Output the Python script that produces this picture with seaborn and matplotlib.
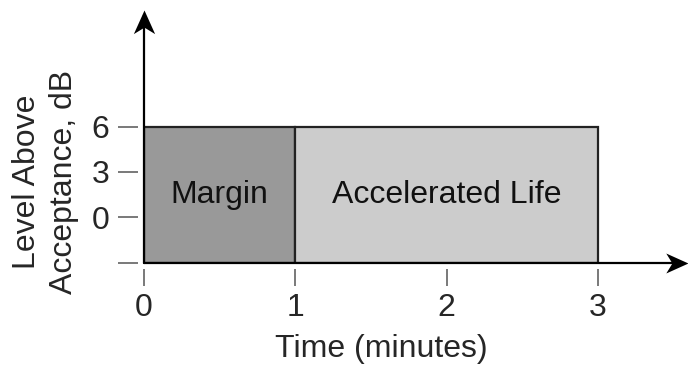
import matplotlib
matplotlib.use("Agg")
import matplotlib.pyplot as plt
from matplotlib.path import Path
import seaborn as sns
import numpy as np

# phases on the time axis (minutes) and the level band (dB)
phases = ["Margin", "Accelerated Life"]
phase_start = [0, 1]
phase_end = [1, 3]
level_low = -3
level_high = 6
phase_colors = ["#999999", "#cccccc"]

x_ticks = [0, 1, 2, 3]
y_ticks = [-3, 0, 3, 6]
y_tick_labels = ["", "0", "3", "6"]

sns.set_theme(style="white")
plt.rcParams["font.family"] = ["Liberation Sans", "DejaVu Sans"]

fig = plt.figure(figsize=(6.88, 3.69), dpi=100)
ax = fig.add_axes([144 / 688, 106.5 / 369, 544 / 688, 252.5 / 369])

widths = np.array(phase_end) - np.array(phase_start)
ax.bar(phase_start, level_high - level_low, width=widths, bottom=level_low,
       align="edge", color=phase_colors, edgecolor="#222222", linewidth=1.6,
       zorder=2)

for name, s, e in zip(phases, phase_start, phase_end):
    ax.text((s + e) / 2, (level_low + level_high) / 2, name, ha="center",
            va="center", fontsize=23, color="#111111", zorder=3)

ax.set_xlim(0, 3.595)
ax.set_ylim(level_low, 13.71)

# axis lines with stealth arrow heads (tip at vertex origin)
head_right = Path([(0, 0), (-2, 0.9), (-1.45, 0), (-2, -0.9), (0, 0)],
                  [Path.MOVETO, Path.LINETO, Path.LINETO, Path.LINETO,
                   Path.CLOSEPOLY])
head_up = Path([(0, 0), (0.9, -2), (0, -1.45), (-0.9, -2), (0, 0)],
               [Path.MOVETO, Path.LINETO, Path.LINETO, Path.LINETO,
                Path.CLOSEPOLY])
ax.plot([0, 0.985], [0, 0], color="black", lw=1.6, transform=ax.transAxes,
        clip_on=False, zorder=4)
ax.plot([0, 0], [0, 0.98], color="black", lw=1.6, transform=ax.transAxes,
        clip_on=False, zorder=4)
ax.plot([1], [0], marker=head_right, ms=32, color="black", mew=0,
        transform=ax.transAxes, clip_on=False, zorder=5)
ax.plot([0], [1], marker=head_up, ms=34, color="black", mew=0,
        transform=ax.transAxes, clip_on=False, zorder=5)

for sp in ax.spines.values():
    sp.set_visible(False)
ax.spines["left"].set_position(("outward", 4))
ax.spines["bottom"].set_position(("outward", 4.5))

ax.set_xticks(x_ticks)
ax.set_xticklabels([str(t) for t in x_ticks])
ax.set_yticks(y_ticks)
ax.set_yticklabels(y_tick_labels)
ax.tick_params(axis="x", direction="out", length=12.2, width=1.1,
               color="#555555", pad=5, labelsize=23, bottom=True)
ax.tick_params(axis="y", direction="out", length=14.4, width=1.1,
               color="#555555", pad=6.5, labelsize=23, left=True)
ax.grid(False)

ax.set_xlabel("Time (minutes)", fontsize=23, va="top")
ax.xaxis.set_label_coords(0.436, -0.285)
ax.set_ylabel("Level Above\nAcceptance, dB", fontsize=23, ha="center",
              va="center", rotation_mode="default", linespacing=1.3)
ax.yaxis.set_label_coords(-0.181, 0.319)

fig.savefig("out.png", dpi=100)
